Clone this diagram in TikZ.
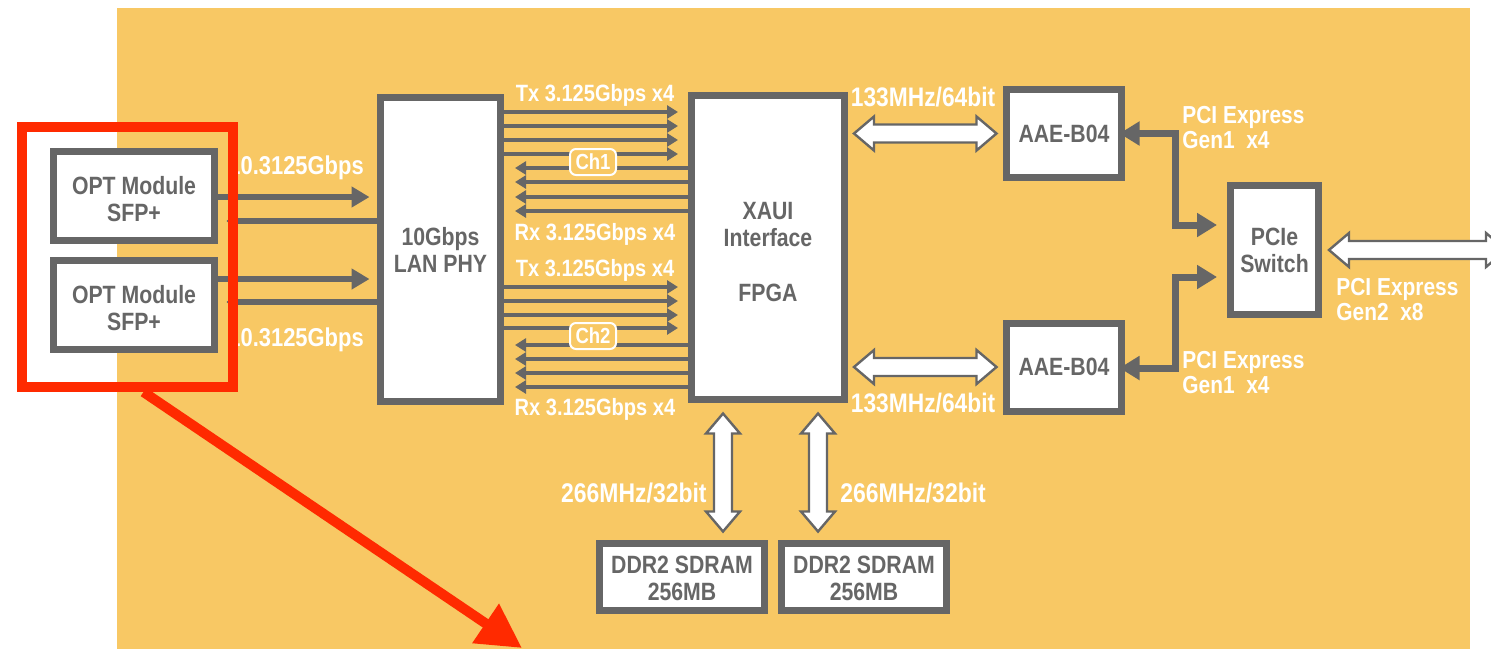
\documentclass[tikz,border=0pt]{standalone}
\usepackage{fontspec}
\newfontfamily\cf{Liberation Sans}[FakeStretch=0.85]
\usetikzlibrary{arrows.meta,calc}
\definecolor{bg}{HTML}{F8C864}
\definecolor{dg}{HTML}{666666}
\definecolor{rd}{HTML}{FF2A00}
\newcommand\fs[1]{\cf\bfseries\fontsize{#1}{#1}\selectfont}
\newcommand\hfat[2]{\draw[fat] let \p1=#1, \p2=#2 in
  (\x1,\y1) -- (\x1+10pt,\y1+8.5pt) -- (\x1+10pt,\y1+4.5pt) -- (\x2-10pt,\y1+4.5pt)
  -- (\x2-10pt,\y1+8.5pt) -- (\x2,\y1) -- (\x2-10pt,\y1-8.5pt) -- (\x2-10pt,\y1-4.5pt)
  -- (\x1+10pt,\y1-4.5pt) -- (\x1+10pt,\y1-8.5pt) -- cycle;}
\newcommand\vfat[2]{\draw[fat] let \p1=#1, \p2=#2 in
  (\x1,\y1) -- (\x1+8.5pt,\y1-10pt) -- (\x1+4.5pt,\y1-10pt) -- (\x1+4.5pt,\y2+10pt)
  -- (\x1+8.5pt,\y2+10pt) -- (\x1,\y2) -- (\x1-8.5pt,\y2+10pt) -- (\x1-4.5pt,\y2+10pt)
  -- (\x1-4.5pt,\y1-10pt) -- (\x1-8.5pt,\y1-10pt) -- cycle;}
\tikzset{
  box/.style={draw=dg, line width=3.5pt, fill=white, text=dg, align=center, inner sep=0pt,
    font=\cf\bfseries\fontsize{12.5}{13.5}\selectfont},
  wl/.style={text=white, inner sep=0pt, text depth=0pt},
  ml/.style={text=white, inner sep=0pt, align=left, font=\cf\bfseries\fontsize{12.3}{12.5}\selectfont},
  fat/.style={draw=dg, fill=white, line width=1.2pt, line join=miter},
  txl/.style={dg, line width=2pt, -{Triangle[length=5.5pt,width=6.5pt]}, shorten >=5pt},
  oar/.style={dg, line width=3pt, -{Triangle[length=9pt,width=10pt]}, shorten >=3.75pt},
  oal/.style={dg, line width=3pt, -{Triangle[length=3.5pt,width=5.5pt]}},
  garr/.style={dg, line width=3.5pt, line join=miter,
    {Triangle[length=10pt,width=11.5pt]}-{Triangle[length=10pt,width=11.5pt]},
    shorten <=-2.75pt, shorten >=5pt},
  chbox/.style={draw=white, line width=1pt, fill=bg, rounded corners=3pt, text=white,
    minimum width=23pt, minimum height=13pt, inner sep=0pt, font=\fs{10.9}}
}
\begin{document}
\begin{tikzpicture}[x=0.5pt,y=-0.5pt]
\useasboundingbox (0,0) rectangle (1491,649);
\fill[bg] (117,8) rectangle (1470,649);

% boxes
\node[box, minimum width=80.5pt, minimum height=44.5pt] (opt1) at (134,196) {\rule{0pt}{12pt}OPT Module\\SFP+};
\node[box, minimum width=80.5pt, minimum height=44.5pt] (opt2) at (134,305) {\rule{0pt}{12pt}OPT Module\\SFP+};
\node[box, minimum width=60pt, minimum height=152pt] (phy) at (440.5,249.5) {10Gbps\\LAN PHY};
\node[box, minimum width=76.5pt, minimum height=152pt] (fpga) at (768,247.5) {\rule{0pt}{13pt}XAUI\\Interface\\[14pt]FPGA};
\node[box, minimum width=57.5pt, minimum height=44pt] (aae1) at (1064,133.5) {AAE-B04};
\node[box, minimum width=57.5pt, minimum height=44pt] (aae2) at (1064,367) {AAE-B04};
\node[box, minimum width=44pt, minimum height=64.5pt] (sw) at (1274.5,250) {PCIe\\Switch};
\node[box, minimum width=82.5pt, minimum height=33.5pt] (ddr1) at (682,577) {\rule{0pt}{10.5pt}DDR2 SDRAM\\256MB};
\node[box, minimum width=82.5pt, minimum height=33.5pt] (ddr2) at (864,577) {\rule{0pt}{10.5pt}DDR2 SDRAM\\256MB};
\coordinate (pcieout) at (1506,250);
\coordinate (redtip) at (522,648);

% OPT <-> PHY
\draw[oar] (opt1.east |- 0,197) -- (phy.west |- 0,197);
\draw[oal] (phy.west |- 0,221) -- ($(opt1.east |- 0,221)+(4.25pt,0pt)$);
\draw[oar] (opt2.east |- 0,279) -- (phy.west |- 0,279);
\draw[oal] (phy.west |- 0,302) -- ($(opt2.east |- 0,302)+(4.25pt,0pt)$);
\node[wl, anchor=west, font=\fs{12.9}] (r1) at (228,165) {10.3125Gbps};
\node[wl, anchor=west, font=\fs{12.9}] (r2) at (228,337) {10.3125Gbps};

% Tx / Rx lanes
\foreach \y in {112,126,140,154,287,301,315,328}
  \draw[txl] (phy.east |- 0,\y) -- (fpga.west |- 0,\y);
\foreach \y in {168,182,197,211,345,359,373,387}
  \draw[txl, shorten >=5.5pt] (fpga.west |- 0,\y) -- (phy.east |- 0,\y);
\node[chbox] (ch1) at (593,162) {Ch1};
\node[chbox] (ch2) at (593,336) {Ch2};
\node[wl, font=\fs{11.8}] (tx1) at (595,93) {Tx 3.125Gbps x4};
\node[wl, font=\fs{11.8}] (rx1) at (595,232) {Rx 3.125Gbps x4};
\node[wl, font=\fs{11.8}] (tx2) at (595,268) {Tx 3.125Gbps x4};
\node[wl, font=\fs{11.8}] (rx2) at (595,407) {Rx 3.125Gbps x4};

% FPGA <-> AAE
\hfat{($(fpga.east |- aae1.west)+(3pt,0pt)$)}{($(aae1.west)+(-3.25pt,0pt)$)}
\hfat{($(fpga.east |- aae2.west)+(3pt,0pt)$)}{($(aae2.west)+(-3.25pt,0pt)$)}
\node[wl, font=\fs{13.4}] (m1) at (923,97) {133MHz/64bit};
\node[wl, font=\fs{13.4}] (m2) at (923,403) {133MHz/64bit};

% FPGA <-> DDR
\vfat{($(fpga.south -| 723,0)+(0pt,-5.25pt)$)}{($(ddr1.north -| 723,0)+(0pt,4.25pt)$)}
\vfat{($(fpga.south -| 818,0)+(0pt,-5.25pt)$)}{($(ddr2.north -| 818,0)+(0pt,4.25pt)$)}
\node[wl, anchor=east, font=\fs{13.5}] (d1) at (707,493) {266MHz/32bit};
\node[wl, anchor=west, font=\fs{13.5}] (d2) at (840,493) {266MHz/32bit};

% AAE <-> switch
\draw[garr] (aae1.east) -- ++(25pt,0pt) |- (sw.west |- 0,225);
\draw[garr] (aae2.east |- 0,368) -- ++(25pt,0pt) |- (sw.west |- 0,277);
\node[ml, anchor=west] (p1) at (1182,127.5) {PCI Express\\Gen1\ \ x4};
\node[ml, anchor=west] (p2) at (1182,372.5) {PCI Express\\Gen1\ \ x4};

% switch out
\hfat{($(sw.east)+(3.5pt,0pt)$)}{(pcieout)}
\node[ml, anchor=west] (p3) at (1336,299.5) {PCI Express\\Gen2\ \ x8};

% red highlight
\node[draw=rd, line width=5pt, minimum width=105.5pt, minimum height=130pt, inner sep=0pt] (hl) at (127.5,257) {};
\draw[rd, line width=5pt, -{Triangle[length=22pt,width=22.5pt]}] ($(hl.south)+(8pt,0pt)$) -- (redtip);
\end{tikzpicture}
\end{document}
